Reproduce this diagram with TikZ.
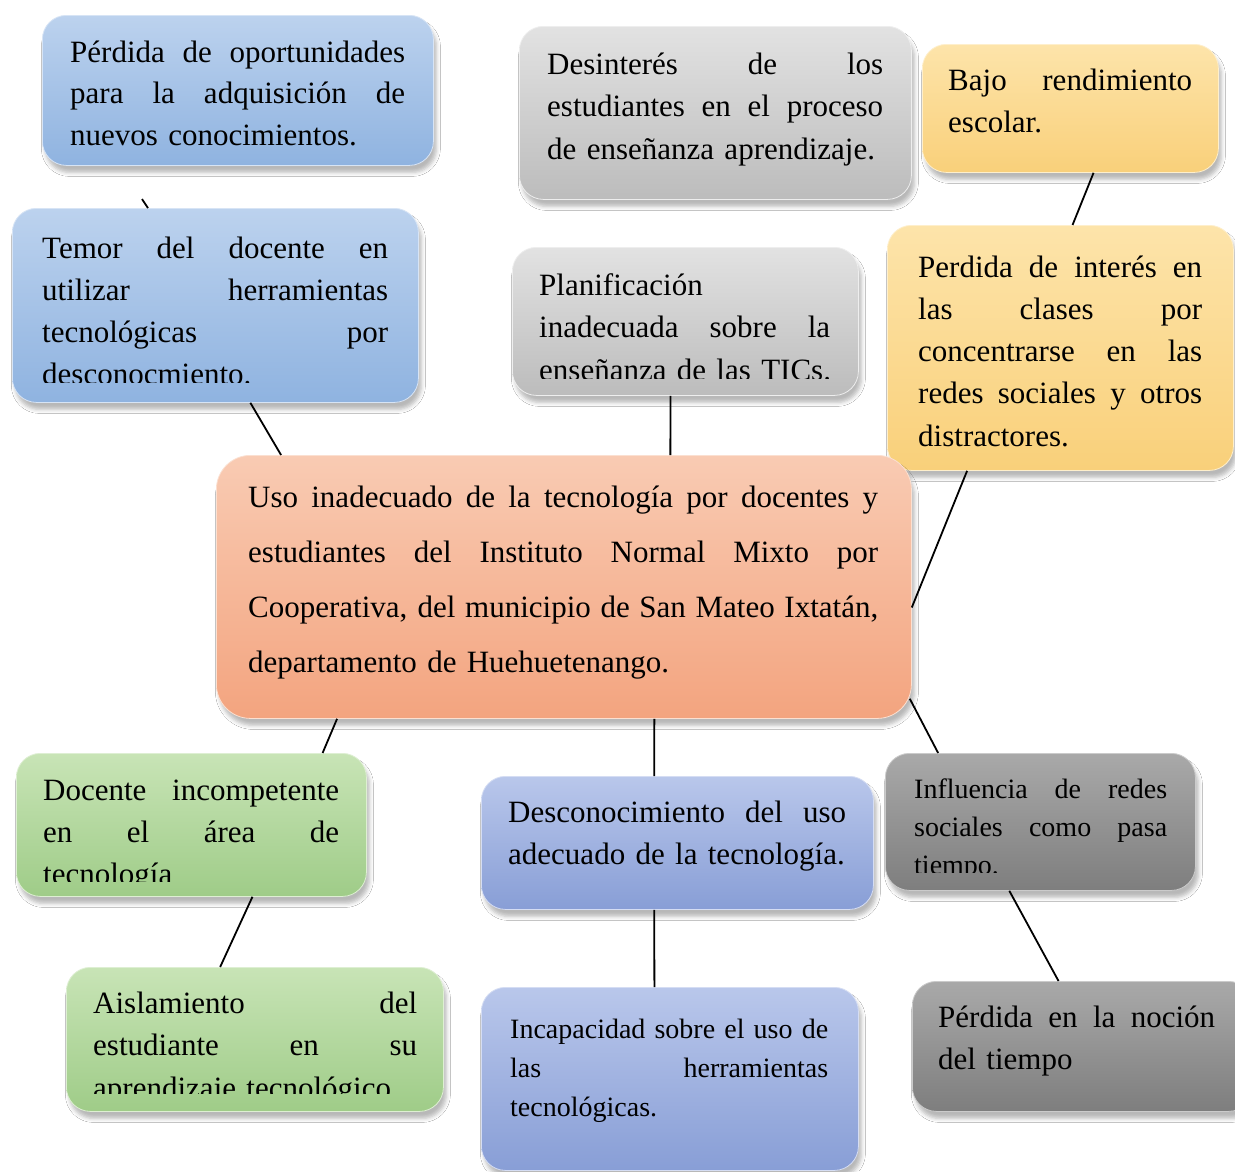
\documentclass[tikz,border=0pt]{standalone}
\usepackage{fontspec}
\setmainfont{Liberation Serif}
\usetikzlibrary{calc,shadows.blur}
\definecolor{blueT}{HTML}{BCD2EE}\definecolor{blueB}{HTML}{8FB3E0}
\definecolor{grayT}{HTML}{E2E2E2}\definecolor{grayB}{HTML}{BCBCBC}
\definecolor{yelT}{HTML}{FDE4AA}\definecolor{yelB}{HTML}{F9D07A}
\definecolor{orT}{HTML}{F9CBB3}\definecolor{orB}{HTML}{F3A47F}
\definecolor{grT}{HTML}{C8E4B6}\definecolor{grB}{HTML}{9FCC88}
\definecolor{peT}{HTML}{B9C7EB}\definecolor{peB}{HTML}{889ED6}
\definecolor{dgT}{HTML}{A9A9A9}\definecolor{dgB}{HTML}{7E7E7E}
\newlength{\jw}
\newcommand{\jl}[1]{\makebox[\jw][s]{\spaceskip=.25em plus 1fil minus .1em\relax #1}\\}
\newcommand{\jlast}[1]{\makebox[\jw][l]{#1}}
\begin{document}
\begin{tikzpicture}[x=1pt,y=-1pt,
  box/.style={rounded corners=24pt, inner sep=0pt, anchor=north west, line width=0.8pt,
    blur shadow={shadow xshift=3pt, shadow yshift=-7pt, shadow blur radius=4pt, shadow opacity=28}},
  bxblue/.style={box, top color=blueT, bottom color=blueB, draw=blueT!60!white},
  bxgray/.style={box, top color=grayT, bottom color=grayB, draw=grayT!60!white},
  bxyel/.style={box, top color=yelT, bottom color=yelB, draw=yelT!60!white},
  bxor/.style={box, rounded corners=34pt, top color=orT, bottom color=orB, draw=orT!60!white},
  bxgr/.style={box, top color=grT, bottom color=grB, draw=grT!60!white},
  bxpe/.style={box, top color=peT, bottom color=peB, draw=peT!60!white},
  bxdg/.style={box, top color=dgT, bottom color=dgB, draw=dgT!60!white},
  txt/.style={anchor=base west, inner sep=0pt, text width=#1, /utils/exec={\setlength{\jw}{#1}}},
  link/.style={line width=1.8pt, black}]
\fill[white] (0,0) rectangle (1235,1171);
\useasboundingbox (0,0) rectangle (1235,1171);

% boxes
\node[bxblue, minimum width=391pt, minimum height=150pt] (b1) at (42,15) {};
\node[txt=335pt, font=\fontsize{31}{41.5}\selectfont] (t1) at (70,62)
  {\jl{Pérdida de oportunidades}\jl{para la adquisición de}\jlast{nuevos conocimientos.}};

\node[bxgray, minimum width=392pt, minimum height=173pt] (b2) at (519,26) {};
\node[txt=336pt, font=\fontsize{31}{42.5}\selectfont] (t2) at (547,74)
  {\jl{Desinterés de los}\jl{estudiantes en el proceso}\jlast{de enseñanza aprendizaje.}};

\node[bxyel, minimum width=296pt, minimum height=128pt] (b3) at (922,44) {};
\node[txt=244pt, font=\fontsize{31}{42}\selectfont] (t3) at (948,90)
  {\jl{Bajo rendimiento}\jlast{escolar.}};

\node[bxblue, minimum width=406pt, minimum height=194pt] (b4) at (12,208) {};
\begin{scope}
\clip (12,208) rectangle (418,382);
\node[txt=346pt, font=\fontsize{31}{42}\selectfont] (t4) at (42,258)
  {\jl{Temor del docente en}\jl{utilizar herramientas}\jl{tecnológicas por}\jlast{desconocmiento.}};
\end{scope}

\node[bxgray, minimum width=346pt, minimum height=148pt] (b5) at (512,247) {};
\begin{scope}
\clip (512,247) rectangle (858,378);
\node[txt=291pt, font=\fontsize{31}{42.5}\selectfont] (t5) at (539,295)
  {\jlast{Planificación}\\\jl{inadecuada sobre la}\jlast{enseñanza de las TICs.}};
\end{scope}

\node[bxyel, minimum width=346pt, minimum height=245pt] (b6) at (887,225) {};
\node[txt=284pt, font=\fontsize{31}{42.3}\selectfont] (t6) at (918,277)
  {\jl{Perdida de interés en}\jl{las clases por}\jl{concentrarse en las}\jl{redes sociales y otros}\jlast{distractores.}};

\node[bxor, minimum width=695pt, minimum height=263pt] (c) at (216,455) {};
\node[txt=630pt, font=\fontsize{31}{55}\selectfont] (tc) at (248,507)
  {\jl{Uso inadecuado de la tecnología por docentes y}\jl{estudiantes del Instituto Normal Mixto por}\jl{Cooperativa, del municipio de San Mateo Ixtatán,}\jlast{departamento de Huehuetenango.}};

\node[bxgr, minimum width=350pt, minimum height=143pt] (g1) at (16,753) {};
\begin{scope}
\clip (16,753) rectangle (366,881);
\node[txt=296pt, font=\fontsize{31}{42}\selectfont] (tg1) at (43,800)
  {\jl{Docente incompetente}\jl{en el área de}\jlast{tecnología}};
\end{scope}

\node[bxpe, minimum width=392pt, minimum height=133pt] (b9) at (481,776) {};
\node[txt=338pt, font=\fontsize{31}{42}\selectfont] (t9) at (508,822)
  {\jl{Desconocimiento del uso}\jlast{adecuado de la tecnología.}};

\node[bxdg, minimum width=310pt, minimum height=137pt] (g3) at (885,753) {};
\begin{scope}
\clip (885,753) rectangle (1195,872);
\node[txt=253pt, font=\fontsize{28}{38}\selectfont] (tg3) at (914,798)
  {\jl{Influencia de redes}\jl{sociales como pasa}\jlast{tiempo.}};
\end{scope}

\node[bxgr, minimum width=377pt, minimum height=144pt] (g2) at (66,967) {};
\begin{scope}
\clip (66,967) rectangle (443,1093);
\node[txt=324pt, font=\fontsize{31}{42.5}\selectfont] (tg2) at (93,1013)
  {\jl{Aislamiento del}\jl{estudiante en su}\jlast{aprendizaje tecnológico}};
\end{scope}

\node[bxpe, minimum width=377pt, minimum height=183pt] (b12) at (481,987) {};
\node[txt=318pt, font=\fontsize{28}{39}\selectfont] (t12) at (510,1038)
  {\jl{Incapacidad sobre el uso de}\jl{las herramientas}\jlast{tecnológicas.}};

\node[bxdg, minimum width=340pt, minimum height=130pt] (g4) at (912,981) {};
\node[txt=277pt, font=\fontsize{31}{42}\selectfont] (tg4) at (938,1027)
  {\jl{Pérdida en la noción}\jlast{del tiempo}};

% connectors
\coordinate (f1) at (142,199);
\coordinate (f2) at (148,208);
\draw[link] (f1) -- (f2);
\draw[link] ($(b4.south west)!0.586!(b4.south east)$) -- ($(c.north west)!0.0935!(c.north east)$);
\draw[link] ($(b5.south west)!0.457!(b5.south east)$) -- ($(c.north west)!0.653!(c.north east)$);
\draw[link] ($(b3.south west)!0.578!(b3.south east)$) -- ($(b6.north west)!0.535!(b6.north east)$);
\draw[link] ($(b6.south west)!0.231!(b6.south east)$) -- ($(c.north east)!0.578!(c.south east)$);
\draw[link] ($(c.south west)!0.174!(c.south east)$) -- ($(g1.north west)!0.874!(g1.north east)$);
\draw[link] ($(g1.south west)!0.674!(g1.south east)$) -- ($(g2.north west)!0.408!(g2.north east)$);
\draw[link] ($(c.south west)!0.630!(c.south east)$) -- ($(b9.north west)!0.441!(b9.north east)$);
\draw[link] ($(b9.south west)!0.441!(b9.south east)$) -- ($(b12.north west)!0.459!(b12.north east)$);
\draw[link] ($(c.north east)!0.924!(c.south east)+(-2,0)$) -- ($(g3.north west)!0.171!(g3.north east)$);
\draw[link] ($(g3.south west)!0.4!(g3.south east)$) -- ($(g4.north west)!0.43!(g4.north east)$);
\end{tikzpicture}
\end{document}
